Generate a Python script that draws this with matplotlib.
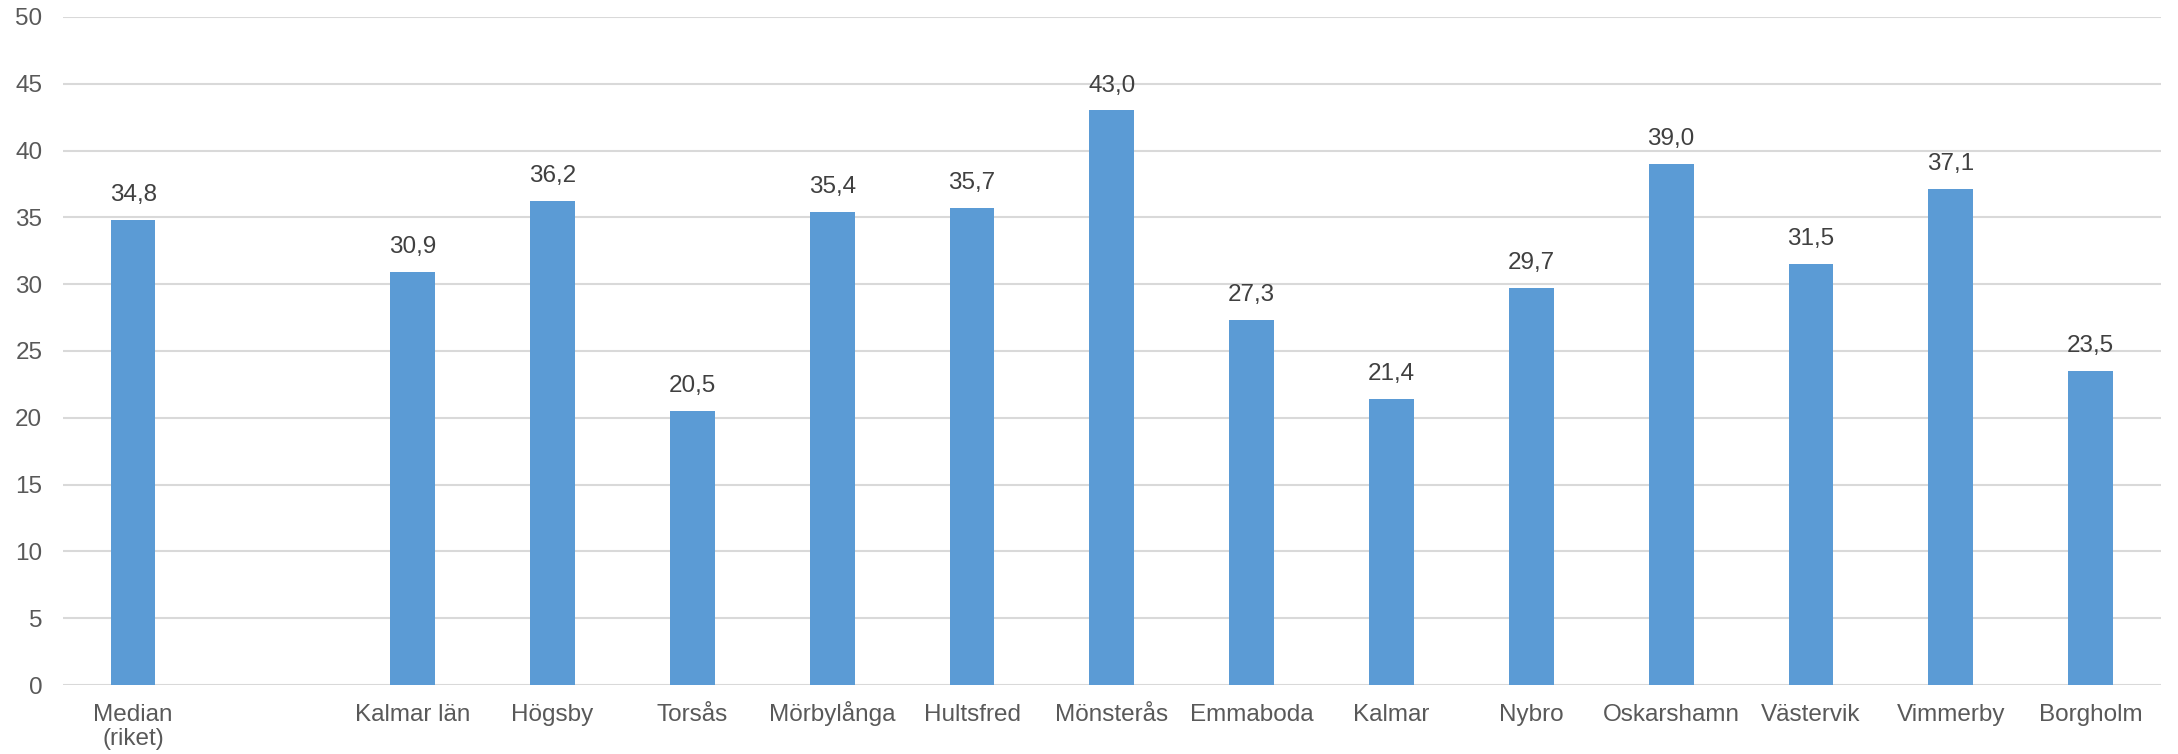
import numpy as np
import matplotlib

matplotlib.use("Agg")
import matplotlib.pyplot as plt

CATEGORIES = ["Median\n(riket)", "", "Kalmar län", "Högsby", "Torsås", "Mörbylånga",
              "Hultsfred", "Mönsterås", "Emmaboda", "Kalmar", "Nybro", "Oskarshamn",
              "Västervik", "Vimmerby", "Borgholm"]
VALUES = [34.8, np.nan, 30.9, 36.2, 20.5, 35.4, 35.7, 43.0, 27.3, 21.4, 29.7, 39.0,
          31.5, 37.1, 23.5]
Y_TICKS = list(range(0, 55, 5))

BAR_COLOR = "#5B9BD5"
GRID_COLOR = "#D9D9D9"


def main():
    plt.rcParams.update({"font.family": ["Liberation Sans", "DejaVu Sans"]})
    fig = plt.figure(figsize=(21.78, 7.54), dpi=100)
    ax = fig.add_axes([0.029, 0.0915, 0.963, 0.886])

    x = np.arange(len(CATEGORIES))
    vals = np.array(VALUES, dtype=float)
    ax.bar(x, np.nan_to_num(vals), width=0.32, color=BAR_COLOR, zorder=3)

    for xi, v in zip(x, vals):
        if np.isnan(v):
            continue
        ax.annotate(f"{v:.1f}".replace(".", ","), xy=(xi, v), xytext=(0, 10),
                    textcoords="offset points", ha="center", va="bottom",
                    fontsize=17.5, color="#404040")

    # category labels, baseline-aligned so accented names sit on the same line
    for xi, cat in zip(x, CATEGORIES):
        for li, line in enumerate(cat.split("\n")):
            ax.annotate(line, xy=(xi, 0), xycoords=("data", "axes fraction"),
                        xytext=(0, -26 - 17.5 * li), textcoords="offset points",
                        ha="center", va="baseline", fontsize=17.5, color="#595959")

    ax.set_xlim(-0.5, len(CATEGORIES) - 0.5)
    ax.set_ylim(0, 50)
    ax.set_yticks(Y_TICKS)
    ax.set_xticks([])
    ax.tick_params(axis="y", labelsize=17.5, labelcolor="#595959", length=0, pad=15)
    ax.yaxis.grid(True, color=GRID_COLOR, linewidth=1.5, zorder=0)
    for spine in ax.spines.values():
        spine.set_visible(False)

    fig.savefig("out.png", dpi=100, facecolor="white")
    plt.close()


if __name__ == "__main__":
    main()
